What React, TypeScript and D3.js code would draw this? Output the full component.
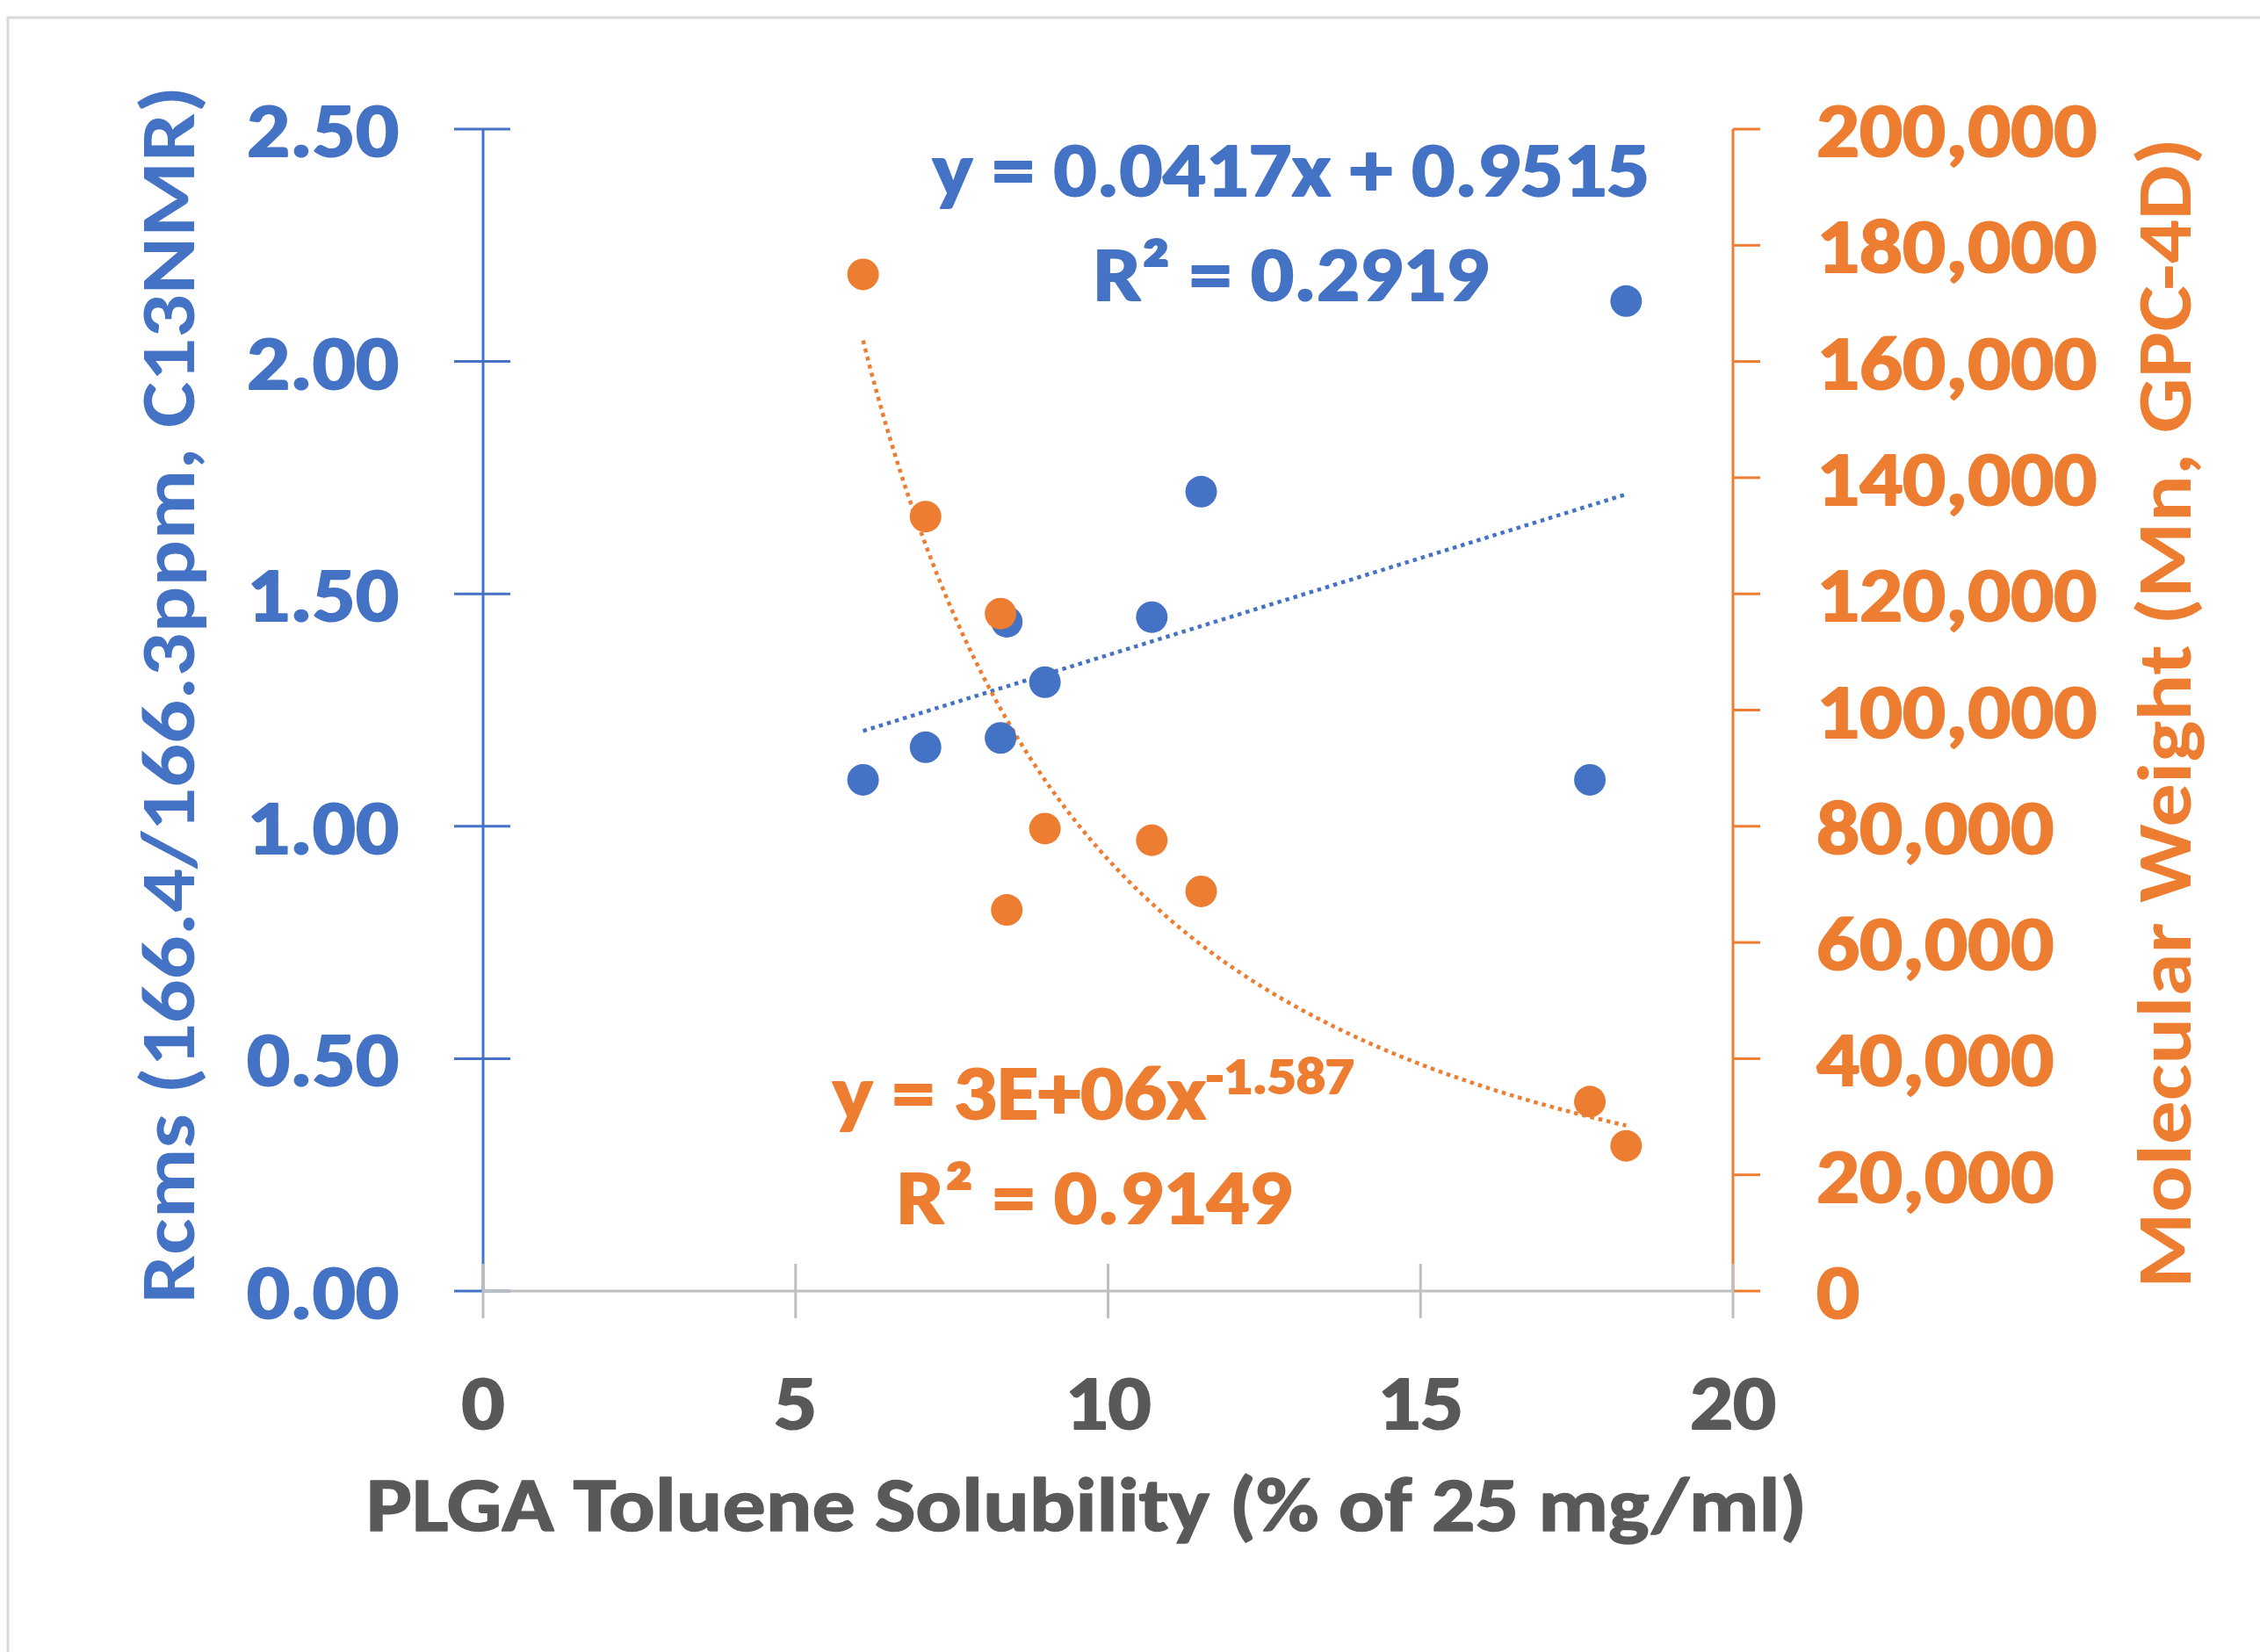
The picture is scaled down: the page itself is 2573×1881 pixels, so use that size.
import React from "react";
import * as d3 from "d3";

// ---- data ----
const solubility = [6.08, 7.08, 8.28, 8.38, 8.99, 10.7, 11.49, 17.71, 18.29];
const rcms = [1.1, 1.17, 1.19, 1.44, 1.31, 1.45, 1.72, 1.1, 2.13];
const mnSolubility = [6.08, 7.08, 8.28, 8.38, 8.99, 10.7, 11.49, 17.71, 18.29];
const molecularWeight = [175000, 133300, 116600, 65600, 79600, 77600, 68800, 32600, 25000];

const xTicks = [0, 5, 10, 15, 20];
const leftTicks = [0, 0.5, 1, 1.5, 2, 2.5];
const rightTicks = [0, 20000, 40000, 60000, 80000, 100000, 120000, 140000, 160000, 180000, 200000];

const linearSlope = 0.0417;
const linearIntercept = 0.9515;
const powerCoef = 2.87e6;
const powerExp = -1.587;

const xTitle = "PLGA Toluene Solubility (% of 25 mg/ml)";
const leftTitle = "Rcms (166.4/166.3ppm, C13NMR)";
const rightTitle = "Molecular Weight (Mn, GPC-4D)";

const BLUE = "#4472C4";
const ORANGE = "#ED7D31";
const GRAY_TEXT = "#595959";
const GRAY_LINE = "#BFBFBF";
const FONT = "Carlito, Lato, 'Open Sans', sans-serif";
const SX = 1.1;

type TProps = {
  x: number;
  y: number;
  rot?: number;
  sx?: number;
  anchor?: "start" | "middle" | "end";
  fill: string;
  bold?: number;
  children: React.ReactNode;
};

function T({ x, y, rot = 0, sx = SX, anchor = "start", fill, bold = 0, children }: TProps) {
  return (
    <g transform={`translate(${x},${y}) rotate(${rot}) scale(${sx},1)`}>
      <text
        x={0}
        y={0}
        textAnchor={anchor}
        fill={fill}
        stroke={bold > 0 ? fill : "none"}
        strokeWidth={bold}
        strokeLinejoin="round"
        paintOrder="stroke"
      >
        {children}
      </text>
    </g>
  );
}

export default function App() {
  const W = 2573;
  const H = 1881;
  const left = 550, right = 1973, top = 147, bottom = 1470;

  const x = d3.scaleLinear().domain([0, 20]).range([left, right]);
  const yL = d3.scaleLinear().domain([0, 2.5]).range([bottom, top]);
  const yR = d3.scaleLinear().domain([0, 200000]).range([bottom, top]);

  const xMin = d3.min(solubility) as number;
  const xMax = d3.max(solubility) as number;

  const linLine = d3.line<number>()
    .x((d) => x(d))
    .y((d) => yL(linearSlope * d + linearIntercept));
  const powLine = d3.line<number>()
    .x((d) => x(d))
    .y((d) => yR(powerCoef * Math.pow(d, powerExp)));
  const samples = d3.range(0, 201).map((i) => xMin + ((xMax - xMin) * i) / 200);

  const fmtL = d3.format(".2f");
  const fmtR = d3.format(",");
  const fs = 88;

  return (
    <div style={{ position: "absolute", left: 0, top: 0 }}>
      <svg width={W} height={H} style={{ display: "block", background: "#fff" }}>
        <rect x={0} y={0} width={W} height={H} fill="#fff" />
        <rect x={9} y={20} width={4000} height={4000} fill="none" stroke="#D9D9D9" strokeWidth={3} />

        {/* left axis */}
        <line x1={left} x2={left} y1={top} y2={bottom} stroke={BLUE} strokeWidth={3} />
        {leftTicks.map((t) => (
          <line key={"lt" + t} x1={left - 33} x2={left + 31} y1={yL(t)} y2={yL(t)} stroke={BLUE} strokeWidth={3} />
        ))}
        {/* right axis */}
        <line x1={right} x2={right} y1={top} y2={bottom} stroke={ORANGE} strokeWidth={3} />
        {rightTicks.map((t) => (
          <line key={"rt" + t} x1={right} x2={right + 31} y1={yR(t)} y2={yR(t)} stroke={ORANGE} strokeWidth={3} />
        ))}
        {/* x axis */}
        <line x1={left} x2={right} y1={bottom} y2={bottom} stroke={GRAY_LINE} strokeWidth={3} />
        {xTicks.map((t) => (
          <line key={"xt" + t} x1={x(t)} x2={x(t)} y1={bottom - 31} y2={bottom + 31} stroke={GRAY_LINE} strokeWidth={3} />
        ))}

        {/* trendlines */}
        <path d={linLine([xMin, xMax]) as string} fill="none" stroke={BLUE} strokeWidth={4.5} strokeDasharray="4.5 5" />
        <path d={powLine(samples) as string} fill="none" stroke={ORANGE} strokeWidth={4.5} strokeDasharray="4.5 5" />

        {/* points */}
        {solubility.map((s, i) => (
          <circle key={"b" + i} cx={x(s)} cy={yL(rcms[i])} r={18} fill={BLUE} />
        ))}
        {mnSolubility.map((s, i) => (
          <circle key={"o" + i} cx={x(s)} cy={yR(molecularWeight[i])} r={18} fill={ORANGE} />
        ))}

        {/* tick labels */}
        <g fontFamily={FONT} fontWeight={700} fontSize={fs}>
          {leftTicks.map((t) => (
            <T key={"ll" + t} x={454} y={yL(t) + 31} anchor="end" fill={BLUE} bold={2}>{fmtL(t)}</T>
          ))}
          {rightTicks.map((t) => (
            <T key={"rl" + t} x={2068} y={yR(t) + 31} anchor="start" fill={ORANGE} bold={2}>{fmtR(t)}</T>
          ))}
          {xTicks.map((t) => (
            <T key={"xl" + t} x={x(t)} y={1627} anchor="middle" fill={GRAY_TEXT} bold={2}>{t}</T>
          ))}
        </g>

        {/* titles */}
        <g fontFamily={FONT} fontWeight={700} fontSize={fs}>
          <T x={1237} y={1743} sx={1.115} anchor="middle" fill={GRAY_TEXT} bold={1.5}>{xTitle}</T>
          <T x={221} y={791} rot={-90} sx={1.12} anchor="middle" fill={BLUE}>{leftTitle}</T>
          <T x={2494} y={812} rot={-90} sx={1.125} anchor="middle" fill={ORANGE}>{rightTitle}</T>
        </g>

        {/* equations */}
        <g fontFamily={FONT} fontWeight={700} fontSize={fs}>
          <T x={1470} y={223} anchor="middle" fill={BLUE} bold={2}>y = 0.0417x + 0.9515</T>
          <T x={1470} y={342} anchor="middle" fill={BLUE} bold={2}>R² = 0.2919</T>
          <T x={948} y={1274} anchor="start" fill={ORANGE} bold={2}>
            y = 3E+06x
            <tspan fontSize={59} dy={-29}>-1.587</tspan>
          </T>
          <T x={1246} y={1393} anchor="middle" fill={ORANGE} bold={2}>R² = 0.9149</T>
        </g>
      </svg>
    </div>
  );
}
